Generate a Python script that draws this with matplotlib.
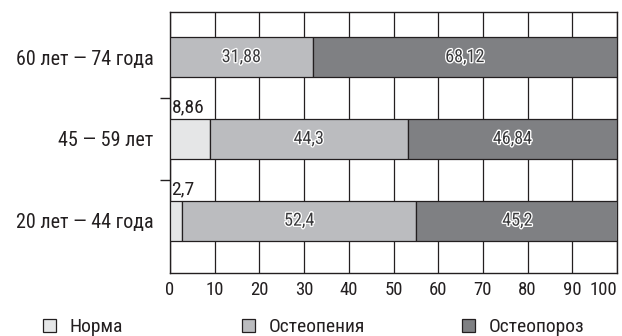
import matplotlib
matplotlib.use("Agg")
import matplotlib.pyplot as plt
import matplotlib.patheffects as pe
import numpy as np

plt.rcParams['font.family'] = ['Roboto Condensed', 'PT Sans Narrow', 'DejaVu Sans']

categories = ["20 лет — 44 года", "45 — 59 лет", "60 лет — 74 года"]
norma = [2.7, 8.86, 0.0]
osteopenia = [52.4, 44.3, 31.88]
osteoporoz = [45.2, 46.84, 68.12]
series_names = ["Норма", "Остеопения", "Остеопороз"]
colors = ["#e5e6e7", "#bbbcbf", "#7f8083"]
xticks = [0, 10, 20, 30, 40, 50, 60, 70, 80, 90, 100]

INK = "#231f20"

fig = plt.figure(figsize=(6.22, 3.36), dpi=100)
ax = fig.add_axes([0.2733, 0.1875, 0.7187, 0.7765])

y = np.arange(len(categories))
h = 0.49
left = np.zeros(len(categories))
series = [norma, osteopenia, osteoporoz]
bars = []
for vals, name, c in zip(series, series_names, colors):
    b = ax.barh(y, vals, height=h, left=left, color=c, edgecolor=INK,
                linewidth=0.9, label=name, zorder=3)
    bars.append(b)
    left = left + np.array(vals)

def fmt(v):
    return ("%g" % v).replace(".", ",")

stroke = [pe.withStroke(linewidth=1.9, foreground="white")]
lefts = np.zeros(len(categories))
for si, vals in enumerate(series):
    for i, v in enumerate(vals):
        if v <= 0:
            continue
        if si == 0:
            ax.text(lefts[i] + 0.35, y[i] + h / 2 + 0.03, fmt(v), ha="left", va="bottom",
                    fontsize=14, color=INK, zorder=5)
        else:
            ax.text(lefts[i] + v / 2, y[i], fmt(v), ha="center", va="center",
                    fontsize=13, color="#3a3a3c", path_effects=stroke, zorder=5)
        lefts[i] += v

ax.set_xlim(0, 100)
ax.set_ylim(-0.64, 2.55)
ax.set_xticks(xticks)
ax.set_xticklabels([str(t) for t in xticks], fontsize=13.5, color=INK)
ax.get_xticklabels()[-1].set_horizontalalignment("right")
ax.tick_params(axis="x", length=0, pad=6)
ax.set_yticks(y)
ax.set_yticklabels(categories, fontsize=14.5, color=INK)
ax.tick_params(axis="y", which="major", length=0, pad=12)
ax.set_yticks([0.5, 1.5], minor=True)
ax.tick_params(axis="y", which="minor", length=7.2, width=1, color=INK)
ax.grid(axis="x", color=INK, linewidth=0.9, zorder=0)
for s in ax.spines.values():
    s.set_color(INK)
    s.set_linewidth(1.0)

leg_x = [43 / 622, 242 / 622, 462 / 622]
for b, name, lx in zip(bars, series_names, leg_x):
    fig.legend(handles=[b], labels=[name], loc="center left",
               bbox_to_anchor=(lx, 9 / 336), frameon=False, fontsize=14,
               handlelength=0.65, handleheight=0.65, handletextpad=0.72,
               borderpad=0, borderaxespad=0, labelcolor=INK)

fig.savefig("out.png", dpi=100)
